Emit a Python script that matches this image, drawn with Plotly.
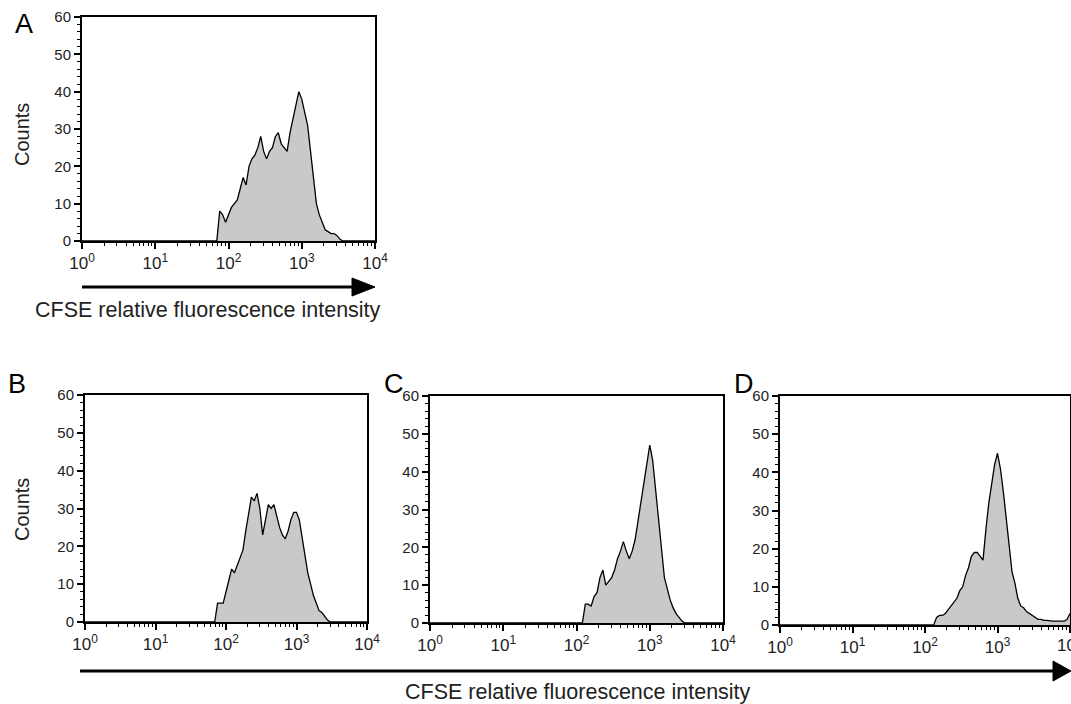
import plotly.graph_objects as go

# log10 fluorescence channel positions (bins)
log_bins = [0.00,
    1.80, 1.84, 1.88, 1.92, 1.96, 2.00, 2.04, 2.08, 2.12, 2.16,
    2.20, 2.24, 2.28, 2.32, 2.36, 2.40, 2.44, 2.48, 2.52, 2.56,
    2.60, 2.64, 2.68, 2.72, 2.76, 2.80, 2.84, 2.88, 2.92, 2.96,
    3.00, 3.04, 3.08, 3.12, 3.16, 3.20, 3.24, 3.28, 3.32, 3.36,
    3.40, 3.44, 3.48, 3.52, 3.56, 3.60, 3.64, 3.68, 3.72, 3.76,
    3.80, 3.84, 3.88, 3.92, 3.96, 4.00]

counts_A = [0,
    0, 0, 8, 7, 5, 7, 9, 10, 11, 14,
    17, 15, 20, 22, 23, 25, 28, 24, 22, 24,
    25, 28, 29, 26, 25, 24, 29, 33, 36, 40,
    38, 34, 31, 24, 16, 10, 7, 5, 3, 2.5,
    2, 2, 1.5, 0.5, 0, 0, 0, 0, 0, 0,
    0, 0, 0, 0, 0, 0]

counts_B = [0,
    0, 0, 5, 5, 5, 8, 11, 14, 13, 15,
    17, 19, 24, 29, 33, 32, 34, 30, 23, 27,
    31, 30, 31, 28, 25, 23, 22, 24, 27, 29,
    29, 27, 22, 17, 13, 10, 7, 5, 3, 2.5,
    1.5, 0.5, 0, 0, 0, 0, 0, 0, 0, 0,
    0, 0, 0, 0, 0, 0]

counts_C = [0,
    0, 0, 0, 0, 0, 0, 0, 0, 5, 5,
    4.5, 7, 8, 12, 14, 10, 11, 12, 14, 17,
    19, 21.5, 19, 17, 19, 22, 27, 32, 36, 42,
    47, 43, 35, 27, 19, 12, 9, 6, 4, 2.5,
    1.5, 0.5, 0, 0, 0, 0, 0, 0, 0, 0,
    0, 0, 0, 0, 0, 0]

counts_D = [0,
    0, 0, 0, 0, 0, 0, 0, 0, 0, 2,
    2.5, 2.5, 3, 4, 5, 6, 7, 9, 10, 13,
    15, 18, 19, 19, 18, 17, 25, 32, 37, 42,
    45, 41, 35, 28, 20, 14, 11, 7, 5, 4.5,
    3.5, 3, 2.5, 2, 1.5, 1.5, 1.2, 1.2, 1, 1,
    1, 1, 1, 1, 1.5, 3]

panel_letters = ["A", "B", "C", "D"]
x_tick_vals = [1, 10, 100, 1000, 10000]
x_tick_text = ["10<sup>0</sup>", "10<sup>1</sup>", "10<sup>2</sup>", "10<sup>3</sup>", "10<sup>4</sup>"]
y_tick_vals = [0, 10, 20, 30, 40, 50, 60]
x_label = "CFSE relative fluorescence intensity"
y_label = "Counts"

W, H = 1071, 704
FONT = "Liberation Sans, Arial, Helvetica, sans-serif"

# panel boxes in pixels: left, right, top, bottom
boxes = [(82, 375, 17, 241), (85, 367, 395, 622), (430, 723, 396, 623), (780, 1070, 396, 625)]
series = [counts_A, counts_B, counts_C, counts_D]

minor_x = []
for d in [1, 10, 100, 1000]:
    for m in range(2, 10):
        minor_x.append(d * m)

fig = go.Figure()
layout = dict(width=W, height=H, margin=dict(l=0, r=0, t=0, b=0, autoexpand=False),
              paper_bgcolor="white", plot_bgcolor="white", showlegend=False,
              font=dict(family=FONT, color="black"))

for i, (box, cnt) in enumerate(zip(boxes, series)):
    l, r, t, b = box
    sfx = "" if i == 0 else str(i + 1)
    fig.add_trace(go.Scatter(
        x=[10 ** v for v in log_bins], y=cnt, mode="lines",
        line=dict(color="black", width=1.3), fill="tozeroy",
        fillcolor="#c9c9c9", xaxis="x" + sfx, yaxis="y" + sfx,
        hoverinfo="skip"))
    layout["xaxis" + sfx] = dict(
        domain=[l / W, r / W], anchor="y" + sfx, type="log", range=[0, 4],
        automargin=False,
        tickvals=x_tick_vals, ticktext=x_tick_text, ticks="outside", ticklen=6,
        tickwidth=1.5, tickcolor="black", showline=True, linewidth=2, linecolor="black",
        mirror=True, showgrid=False, zeroline=False,
        tickfont=dict(size=17, family=FONT, color="#222"),
        minor=dict(tickvals=minor_x, ticks="outside", ticklen=3, tickwidth=1.2, tickcolor="black"))
    layout["yaxis" + sfx] = dict(
        domain=[1 - b / H, 1 - t / H], anchor="x" + sfx, range=[0, 60],
        automargin=False,
        tickvals=y_tick_vals, ticks="outside", ticklen=6, tickwidth=1.5, tickcolor="black",
        showline=True, linewidth=2, linecolor="black", mirror=True, showgrid=False,
        zeroline=False, tickfont=dict(size=15, family=FONT, color="#222"),
        minor=dict(dtick=2, ticks="outside", ticklen=3, tickwidth=1.2, tickcolor="black"))

fig.update_layout(**layout)

annotations = []
letter_pos = [(24, 24), (17, 384), (394, 384), (744, 384)]
for letter, (px, py) in zip(panel_letters, letter_pos):
    annotations.append(dict(text=letter, x=px / W, y=1 - py / H, xref="paper", yref="paper",
                            showarrow=False, font=dict(size=27, family=FONT, color="black"),
                            xanchor="center", yanchor="middle"))
for (px, py) in [(22, 135), (22, 510)]:
    annotations.append(dict(text=y_label, x=px / W, y=1 - py / H, xref="paper", yref="paper",
                            showarrow=False, textangle=-90,
                            font=dict(size=20, family=FONT, color="#222"),
                            xanchor="center", yanchor="middle"))
for (px, py) in [(208, 310), (578, 692)]:
    annotations.append(dict(text=x_label, x=px / W, y=1 - py / H, xref="paper", yref="paper",
                            showarrow=False, font=dict(size=21.5, family=FONT, color="#222"),
                            xanchor="center", yanchor="middle"))
# panel D's last decade label, partly cut off at the page edge as in the reference
annotations.append(dict(text=x_tick_text[-1], x=4, xref="x4", y=1 - 631 / H, yref="paper",
                        showarrow=False, xanchor="center", yanchor="top",
                        font=dict(size=17, family=FONT, color="#222")))
fig.update_layout(annotations=annotations)

# arrows
def px2paper(x, y):
    return x / W, 1 - y / H

shapes = []
for (x0, x1, xh, yc, hh) in [(82, 375, 352, 287, 9), (80, 1071, 1053, 671, 10)]:
    a0 = px2paper(x0, yc); a1 = px2paper(xh + 2, yc)
    shapes.append(dict(type="line", xref="paper", yref="paper", x0=a0[0], y0=a0[1],
                       x1=a1[0], y1=a1[1], line=dict(color="black", width=3)))
    p1 = px2paper(xh, yc - hh); p2 = px2paper(x1, yc); p3 = px2paper(xh, yc + hh)
    shapes.append(dict(type="path", xref="paper", yref="paper",
                       path=f"M {p1[0]} {p1[1]} L {p2[0]} {p2[1]} L {p3[0]} {p3[1]} Z",
                       fillcolor="black", line=dict(color="black", width=1)))
fig.update_layout(shapes=shapes)

fig.write_html("out.html", config={"displayModeBar": False},
               post_script="document.body.style.margin='0';document.body.style.overflow='hidden';")
